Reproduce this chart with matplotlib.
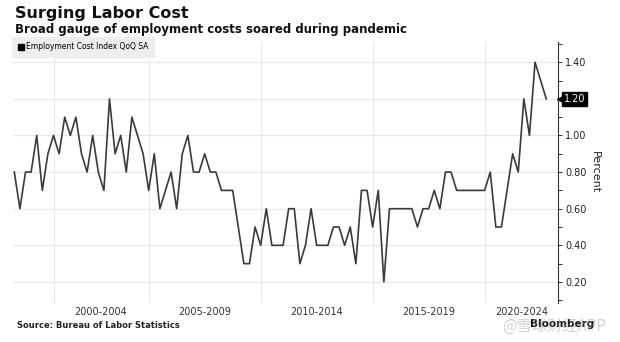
import numpy as np
import pandas as pd
import matplotlib
matplotlib.use("Agg")
import matplotlib.pyplot as plt
import matplotlib.transforms as mtransforms
from matplotlib.lines import Line2D

# Employment Cost Index, quarter-over-quarter % change, 1998Q4 - 2022Q3
quarters = pd.period_range("1998Q4", "2022Q3", freq="Q")
eci_qoq = [
    0.8, 0.6, 0.8, 0.8, 1.0,            # 1998Q4 - 1999Q4
    0.7, 0.9, 1.0, 0.9,                 # 2000
    1.1, 1.0, 1.1, 0.9,                 # 2001
    0.8, 1.0, 0.8, 0.7,                 # 2002
    1.2, 0.9, 1.0, 0.8,                 # 2003
    1.1, 1.0, 0.9, 0.7,                 # 2004
    0.9, 0.6, 0.7, 0.8,                 # 2005
    0.6, 0.9, 1.0, 0.8,                 # 2006
    0.8, 0.9, 0.8, 0.8,                 # 2007
    0.7, 0.7, 0.7, 0.5,                 # 2008
    0.3, 0.3, 0.5, 0.4,                 # 2009
    0.6, 0.4, 0.4, 0.4,                 # 2010
    0.6, 0.6, 0.3, 0.4,                 # 2011
    0.6, 0.4, 0.4, 0.4,                 # 2012
    0.5, 0.5, 0.4, 0.5,                 # 2013
    0.3, 0.7, 0.7, 0.5,                 # 2014
    0.7, 0.2, 0.6, 0.6,                 # 2015
    0.6, 0.6, 0.6, 0.5,                 # 2016
    0.6, 0.6, 0.7, 0.6,                 # 2017
    0.8, 0.8, 0.7, 0.7,                 # 2018
    0.7, 0.7, 0.7, 0.7,                 # 2019
    0.8, 0.5, 0.5, 0.7,                 # 2020
    0.9, 0.8, 1.2, 1.0,                 # 2021
    1.4, 1.3, 1.2,                      # 2022
]

period_labels = ["2000-2004", "2005-2009", "2010-2014", "2015-2019", "2020-2024"]
period_breaks = ["2000Q3", "2004Q4", "2009Q4", "2014Q4", "2019Q4"]
y_ticks = [0.2, 0.4, 0.6, 0.8, 1.0, 1.2, 1.4]

x = np.arange(len(quarters))
q_index = {str(q): i for i, q in enumerate(quarters)}
breaks = [q_index[b] for b in period_breaks]

fig = plt.figure(figsize=(6.2, 3.42), dpi=100)
ax = fig.add_axes([0.021, 0.114, 0.879, 0.763])

grid_c = "#e8e8e8"
ax.set_xlim(-0.23, 97.1)
ax.set_ylim(0.085, 1.51)

for yt in y_ticks:
    ax.axhline(yt, color=grid_c, lw=0.8, zorder=0)
for b in breaks:
    ax.axvline(b, color=grid_c, lw=0.8, zorder=0)

ax.plot(x, eci_qoq, color="#3a3a3a", lw=1.2, zorder=3)

# period labels centred between the break lines
edges = breaks + [ax.get_xlim()[1]]
mids = [(edges[i] + edges[i + 1]) / 2 for i in range(len(period_labels))]
ax.set_xticks(mids)
ax.set_xticklabels(period_labels, fontsize=7, color="#333333")
ax.tick_params(axis="x", length=0, pad=3)

ax.yaxis.tick_right()
ax.set_yticks(y_ticks)
ax.set_yticklabels([f"{v:.2f}" for v in y_ticks], fontsize=7, color="#222222")
ax.set_yticks(np.arange(0.1, 1.55, 0.1), minor=True)
ax.tick_params(axis="y", which="both", direction="out", length=3, width=0.7,
               color="#333333", pad=2)
ax.yaxis.set_label_position("right")
ax.set_ylabel("Percent", fontsize=8, rotation=-90, labelpad=10, color="#222222")

for side in ["left", "top", "bottom"]:
    ax.spines[side].set_visible(False)
ax.spines["right"].set_color("#333333")
ax.spines["right"].set_linewidth(0.8)

# last value tag
last = eci_qoq[-1]
blend = mtransforms.blended_transform_factory(ax.transAxes, ax.transData)
ax.annotate(f"{last:.2f}", xy=(1.0, last), xycoords=blend,
            xytext=(4.3, 0), textcoords="offset points",
            ha="left", va="center", fontsize=7, color="white", zorder=10,
            annotation_clip=False,
            bbox=dict(boxstyle="square,pad=0.18", fc="black", ec="black"))
tri = mtransforms.offset_copy(blend, fig=fig, x=2.2, y=0, units="points")
ax.plot([1.0], [last], marker="<", ms=6, color="black", transform=tri,
        clip_on=False, zorder=9)

# legend
handle = Line2D([], [], marker="s", ls="none", color="black", ms=4)
leg = ax.legend([handle], ["Employment Cost Index QoQ SA"], loc="upper left",
                bbox_to_anchor=(-0.002, 1.02), fontsize=5.5, frameon=True,
                fancybox=False, handletextpad=0.2, handlelength=1.0,
                borderpad=0.7, borderaxespad=0)
leg.get_frame().set_facecolor("#eeeeee")
leg.get_frame().set_edgecolor("#eeeeee")
leg.get_frame().set_alpha(1)
leg.set_zorder(5)

fig.text(0.024, 0.947, "Surging Labor Cost", fontsize=11.5, fontweight="bold",
         va="baseline", color="#111111")
fig.text(0.024, 0.903, "Broad gauge of employment costs soared during pandemic",
         fontsize=8.5, fontweight="bold", va="baseline", color="#111111")
fig.text(0.027, 0.041, "Source: Bureau of Labor Statistics", fontsize=6,
         fontweight="bold", va="baseline", color="#222222")
fig.text(0.855, 0.045, "Bloomberg", fontsize=7.5, fontweight="bold",
         va="baseline", color="#111111")
fig.text(0.81, 0.033, "@雪球财经APP", fontsize=11, va="baseline",
         color="#999999", alpha=0.45,
         family=["Noto Sans CJK SC", "DejaVu Sans"])

fig.savefig("out.png", dpi=100, facecolor="white")
